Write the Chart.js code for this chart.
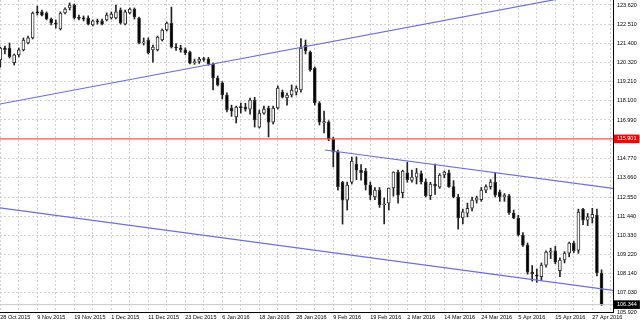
<!DOCTYPE html>
<html>
<head>
<meta charset="utf-8">
<title>USDJPY Daily</title>
<script src="https://cdn.jsdelivr.net/npm/chart.js@4.4.1/dist/chart.umd.min.js"></script>
<style>
  html, body { margin: 0; padding: 0; background: #fff; }
  #wrap { width: 640px; height: 322px; }
</style>
</head>
<body>
<div id="wrap"><canvas id="chart" width="640" height="322"></canvas></div>
<script>
// daily candles, bar index 0 = 28 Oct 2015 ... 130 = 29 Apr 2016
const opens = [
  120.45, 121.14, 121.14, 120.30, 120.74, 121.03, 121.43, 121.72, 123.22, 123.22,
  123.16, 122.81, 122.58, 122.24, 123.16, 123.45, 123.62, 122.87, 122.85, 122.87,
  122.47, 122.70, 122.70, 122.76, 122.87, 122.87, 123.33, 122.52, 123.16, 123.39,
  122.87, 121.43, 121.60, 121.03, 121.03, 121.60, 122.18, 122.58, 121.20, 121.14,
  121.03, 120.91, 120.30, 120.36, 120.50, 120.50, 120.22, 119.41, 119.13, 118.43,
  117.68, 117.16, 117.74, 117.74, 117.62, 118.14, 116.58, 117.39, 117.68, 116.87,
  117.68, 118.60, 118.26, 118.43, 118.60, 118.72, 121.31, 120.91, 119.99, 117.97,
  116.82, 116.87, 115.89, 115.14, 113.41, 112.37, 113.41, 114.45, 114.10, 114.05,
  113.24, 112.55, 112.95, 112.09, 112.20, 113.07, 113.99, 112.80, 113.95, 113.50,
  113.70, 113.90, 113.42, 112.62, 113.30, 113.12, 113.82, 113.95, 113.15, 112.55,
  111.35, 111.62, 111.90, 112.37, 112.40, 112.95, 113.15, 113.41, 112.85, 112.55,
  112.62, 111.62, 111.33, 110.36, 109.78, 108.22, 108.05, 107.95, 108.62, 109.37,
  109.45, 108.30, 108.92, 109.31, 109.89, 109.49, 111.86, 111.22, 111.35, 111.51,
  108.17
];
const highs = [
  121.20, 121.25, 121.43, 120.79, 121.14, 121.72, 121.83, 123.22, 123.56, 123.33,
  123.22, 122.87, 122.76, 123.22, 123.45, 123.74, 123.68, 123.04, 122.99, 122.99,
  122.76, 122.81, 122.81, 123.16, 123.22, 123.62, 123.45, 123.33, 123.45, 123.45,
  122.93, 121.72, 121.72, 121.31, 121.83, 122.24, 122.64, 123.50, 121.40, 121.30,
  121.15, 120.97, 120.50, 120.60, 120.60, 120.60, 120.27, 119.53, 119.20, 118.55,
  117.85, 117.79, 117.97, 117.95, 118.26, 118.30, 117.56, 117.79, 117.79, 117.79,
  118.95, 118.72, 118.54, 119.01, 118.95, 121.69, 121.60, 120.97, 120.05, 118.05,
  117.51, 116.95, 116.00, 115.26, 113.45, 113.41, 114.85, 114.87, 114.42, 114.20,
  113.41, 113.10, 113.10, 112.50, 113.07, 114.00, 114.10, 114.10, 114.55, 114.10,
  114.20, 114.05, 113.60, 113.40, 114.45, 113.90, 114.05, 114.10, 113.50, 112.70,
  111.85, 112.20, 112.55, 112.60, 113.10, 113.25, 113.55, 113.93, 112.95, 112.75,
  112.70, 111.80, 111.50, 110.50, 109.90, 108.60, 108.40, 108.75, 109.45, 109.60,
  109.70, 109.05, 109.40, 109.95, 110.00, 111.85, 111.90, 111.60, 111.90, 111.85,
  108.35
];
const lows = [
  120.04, 120.80, 120.56, 120.16, 120.62, 120.97, 121.37, 121.66, 123.04, 122.99,
  122.76, 122.47, 122.29, 122.18, 123.10, 123.33, 122.81, 122.76, 122.70, 122.47,
  122.41, 122.52, 122.47, 122.70, 122.81, 122.81, 122.52, 122.47, 123.10, 122.81,
  121.37, 121.31, 120.79, 120.33, 120.97, 121.54, 122.12, 121.14, 121.00, 120.90,
  120.75, 120.22, 120.20, 120.25, 120.38, 120.15, 118.72, 118.95, 118.20, 117.45,
  117.20, 116.82, 117.39, 117.50, 117.33, 116.58, 116.53, 117.33, 116.01, 116.76,
  117.62, 118.26, 117.85, 118.31, 118.43, 118.60, 120.80, 119.80, 117.85, 116.70,
  116.24, 115.80, 114.28, 112.95, 110.99, 111.80, 113.30, 113.55, 113.52, 112.95,
  112.40, 112.40, 111.95, 111.00, 111.80, 112.60, 112.20, 112.50, 113.40, 113.40,
  113.30, 113.30, 112.55, 112.40, 112.70, 113.05, 113.65, 113.10, 112.50, 110.70,
  111.00, 111.40, 111.75, 112.20, 112.30, 112.80, 113.00, 112.55, 112.30, 112.30,
  111.55, 111.30, 110.30, 109.70, 108.10, 107.70, 107.63, 107.75, 108.50, 109.00,
  108.70, 107.95, 108.75, 109.10, 109.35, 109.30, 110.95, 110.90, 111.05, 108.00,
  106.30
];
const closes = [
  121.14, 121.05, 120.62, 120.74, 121.03, 121.60, 121.72, 123.16, 123.16, 123.04,
  122.81, 122.58, 122.52, 123.16, 123.39, 123.62, 122.87, 122.85, 122.82, 122.52,
  122.70, 122.64, 122.52, 123.04, 123.10, 123.22, 122.58, 123.22, 123.39, 122.93,
  121.43, 121.50, 120.85, 121.20, 121.77, 122.18, 122.58, 121.20, 121.14, 121.05,
  120.85, 120.27, 120.36, 120.50, 120.48, 120.22, 119.41, 119.01, 118.43, 117.57,
  117.51, 117.74, 117.70, 117.62, 118.14, 116.99, 117.39, 117.62, 116.87, 117.68,
  118.83, 118.31, 118.43, 118.72, 118.83, 121.14, 120.97, 119.87, 117.97, 116.87,
  116.90, 115.89, 115.14, 113.15, 112.37, 113.24, 114.62, 114.10, 113.95, 113.24,
  112.66, 112.95, 112.09, 112.15, 113.07, 113.99, 112.66, 114.05, 113.55, 113.70,
  113.95, 113.42, 112.62, 113.30, 113.20, 113.82, 113.99, 113.15, 112.55, 111.35,
  111.70, 111.90, 112.37, 112.50, 112.95, 113.15, 113.41, 112.66, 112.55, 112.65,
  111.65, 111.35, 110.36, 109.78, 108.22, 108.12, 107.99, 108.62, 109.37, 109.45,
  108.80, 108.92, 109.31, 109.89, 109.45, 111.68, 111.22, 111.40, 111.55, 108.17,
  106.34
];

// time axis: a label every 8 bars, a grid line every 4
const dateLabels = [
  '28 Oct 2015', '9 Nov 2015', '19 Nov 2015', '1 Dec 2015', '11 Dec 2015', '23 Dec 2015',
  '6 Jan 2016', '18 Jan 2016', '28 Jan 2016', '9 Feb 2016', '19 Feb 2016', '2 Mar 2016',
  '14 Mar 2016', '24 Mar 2016', '5 Apr 2016', '15 Apr 2016', '27 Apr 2016'
];
const dateLabelBars = [0, 8, 16, 24, 32, 40, 48, 56, 64, 72, 80, 88, 96, 104, 112, 120, 128];
const gridBars = [0, 4, 8, 12, 16, 20, 24, 28, 32, 36, 40, 44, 48, 52, 56, 60, 64, 68,
  72, 76, 80, 84, 88, 92, 96, 100, 104, 108, 112, 116, 120, 124, 128, 132];

// price axis
const priceTicks = [105.920, 107.030, 108.140, 109.220, 110.330, 111.440, 112.550, 113.660,
  114.770, 116.990, 118.100, 119.210, 120.320, 121.400, 122.510, 123.620];
const markerPrices = [106.344, 115.901];   // bid line, horizontal line
const markerColors = ['#000000', '#ff0000'];

// drawn objects: [bar index, price] anchors
const upperTrend = [{ x: -0.1, y: 117.91 }, { x: 132.5, y: 124.56 }];
const channelTop = [{ x: 70.2, y: 115.26 }, { x: 132.5, y: 113.05 }];
const channelBottom = [{ x: -0.1, y: 111.92 }, { x: 132.5, y: 107.16 }];
const redLevel = [{ x: -0.1, y: 115.901 }, { x: 132.5, y: 115.901 }];
const bidLevel = [{ x: -0.1, y: 106.344 }, { x: 132.5, y: 106.344 }];

const bodies = opens.map((o, i) => ({ x: i, y: [o, closes[i]] }));
const wicks = lows.map((l, i) => ({ x: i, y: [l, highs[i]] }));
const bodyColors = opens.map((o, i) => closes[i] >= o ? '#ffffff' : '#000000');

const font = { family: 'Liberation Sans, Arial, sans-serif', size: 5.5 };
const gridColor = '#d2d2d2';
const isMarker = v => markerPrices.indexOf(v) >= 0;

function lineSet(data, color, width) {
  return {
    type: 'line', data: data, borderColor: color, borderWidth: width,
    pointRadius: 0, fill: false, tension: 0, order: 0
  };
}

new Chart(document.getElementById('chart'), {
  type: 'bar',
  data: {
    datasets: [
      lineSet(bidLevel, '#c8c8c8', 1),
      lineSet(redLevel, '#ff5252', 1.4),
      lineSet(upperTrend, '#6b6bef', 1.2),
      lineSet(channelTop, '#6b6bef', 1.2),
      lineSet(channelBottom, '#6b6bef', 1.2),
      {
        data: bodies, backgroundColor: bodyColors, borderColor: '#333',
        borderWidth: 1, borderSkipped: false, barThickness: 3, minBarLength: 1,
        grouped: false, order: 1
      },
      {
        data: wicks, backgroundColor: '#222', borderWidth: 0,
        barThickness: 1, grouped: false, order: 2
      }
    ]
  },
  options: {
    responsive: false,
    animation: false,
    events: [],
    layout: { padding: 0 },
    plugins: { legend: { display: false }, tooltip: { enabled: false } },
    scales: {
      x: {
        type: 'linear', min: -0.065, max: 132.476, offset: false,
        afterBuildTicks: s => { s.ticks = gridBars.map(v => ({ value: v })); },
        afterFit: s => { s.height = 10; s.paddingLeft = 0; s.paddingRight = 0; },
        grid: { color: gridColor, drawTicks: false, offset: false },
        border: { display: true, color: '#000', width: 1, dash: [2, 2] },
        ticks: {
          autoSkip: false, maxRotation: 0, align: 'start', padding: 2,
          color: '#000', font: font,
          callback: v => {
            const k = dateLabelBars.indexOf(v);
            return k >= 0 ? dateLabels[k] : '';
          }
        }
      },
      y: {
        type: 'linear', position: 'right', min: 105.92, max: 123.908,
        afterBuildTicks: s => {
          s.ticks = priceTicks.concat(markerPrices).sort((a, b) => a - b).map(v => ({ value: v }));
        },
        afterFit: s => { s.width = 27; s.paddingTop = 0; s.paddingBottom = 0; },
        grid: {
          color: c => c.tick && isMarker(c.tick.value) ? 'rgba(0,0,0,0)' : gridColor,
          drawTicks: false
        },
        border: { display: true, color: '#000', width: 1, dash: [2, 2] },
        ticks: {
          autoSkip: false, padding: 4, font: font,
          color: c => c.tick && isMarker(c.tick.value) ? '#fff' : '#000',
          showLabelBackdrop: true,
          backdropPadding: { left: 3, right: 3, top: 1, bottom: 1 },
          backdropColor: c => {
            if (!c.tick) return 'rgba(0,0,0,0)';
            const k = markerPrices.indexOf(c.tick.value);
            return k >= 0 ? markerColors[k] : 'rgba(0,0,0,0)';
          },
          callback: v => v.toFixed(3)
        }
      }
    }
  }
});
</script>
</body>
</html>
